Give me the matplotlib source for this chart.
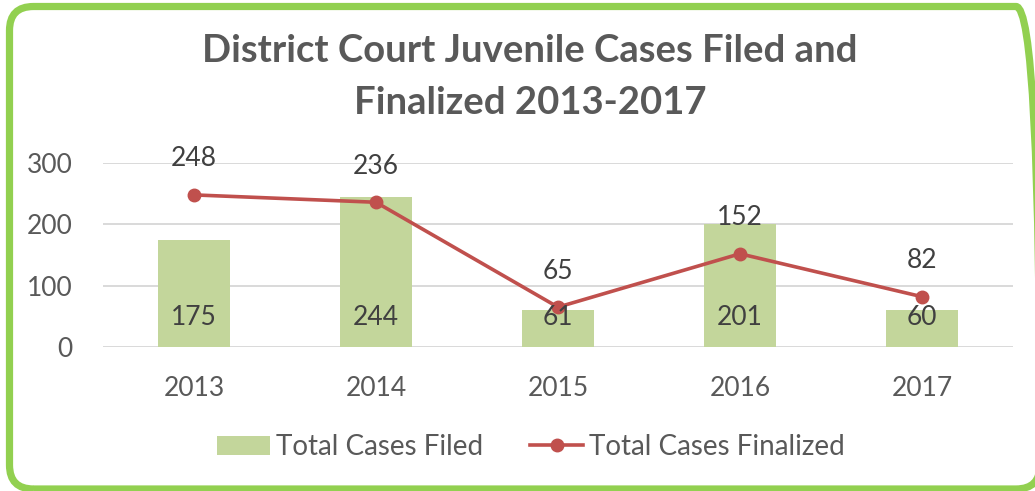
import matplotlib
matplotlib.use('Agg')
import matplotlib.pyplot as plt
from matplotlib.patches import FancyBboxPatch, Patch
from matplotlib.lines import Line2D

# chart data
years = ['2013', '2014', '2015', '2016', '2017']
cases_filed = [175, 244, 61, 201, 60]
cases_finalized = [248, 236, 65, 152, 82]

bar_color = '#C3D69B'
line_color = '#C0504D'
border_color = '#92D050'
text_color = '#595959'
label_color = '#404040'
grid_color = '#D9D9D9'

plt.rcParams['font.family'] = ['Lato', 'DejaVu Sans']

fig = plt.figure(figsize=(10.35, 4.91), dpi=100)
fig.patch.set_facecolor('white')

# rounded green frame (pixel coords); right side sits just past the image edge
frame = FancyBboxPatch((9.5, 2.0), 1030.5, 482.5,
                       boxstyle='round,pad=0,rounding_size=24',
                       transform=None, facecolor='none',
                       edgecolor=border_color, linewidth=5.2, zorder=0)
fig.patches.append(frame)

ax = fig.add_axes([0.0995, 0.2933, 0.8792, 0.3747])
x = list(range(len(years)))

ax.bar(x, cases_filed, width=0.4, color=bar_color, zorder=2)
ax.plot(x, cases_finalized, color=line_color, linewidth=2.6, marker='o',
        markersize=9, zorder=3)

ax.set_xlim(-0.5, len(years) - 0.5)
ax.set_ylim(0, 300)
ax.set_yticks([0, 100, 200, 300])
ax.set_xticks(x)
ax.set_xticklabels(years)
ax.yaxis.grid(True, color=grid_color, linewidth=1.4, zorder=0)
ax.set_axisbelow(True)
for s in ax.spines.values():
    s.set_visible(False)
ax.tick_params(axis='both', length=0, labelsize=19, colors=text_color)
ax.tick_params(axis='x', pad=21)
ax.tick_params(axis='y', pad=22)

# data labels
for i, v in enumerate(cases_filed):
    ax.annotate(str(v), (i, 0), xytext=(0, 21.5), textcoords='offset points',
                ha='center', va='center', fontsize=19, color=label_color, zorder=4)
for i, v in enumerate(cases_finalized):
    ax.annotate(str(v), (i, v), xytext=(0, 26), textcoords='offset points',
                ha='center', va='center', fontsize=19, color=label_color, zorder=4)

# title
fig.text(0.512, 1 - 51 / 491, 'District Court Juvenile Cases Filed and',
         ha='center', va='center', fontsize=27.5, fontweight='bold', color=text_color)
fig.text(0.512, 1 - 103 / 491, 'Finalized 2013-2017',
         ha='center', va='center', fontsize=27.5, fontweight='bold', color=text_color)

handles = [Patch(facecolor=bar_color, edgecolor='none'),
           Line2D([0], [0], color=line_color, linewidth=2.6, marker='o', markersize=9)]
fig.legend(handles, ['Total Cases Filed', 'Total Cases Finalized'],
           loc='center', bbox_to_anchor=(0.513, 1 - 447 / 491), ncol=2,
           frameon=False, fontsize=20, labelcolor=text_color,
           handlelength=1.9, handletextpad=0.22, columnspacing=1.7)

fig.savefig('out.png', dpi=100, facecolor='white')
